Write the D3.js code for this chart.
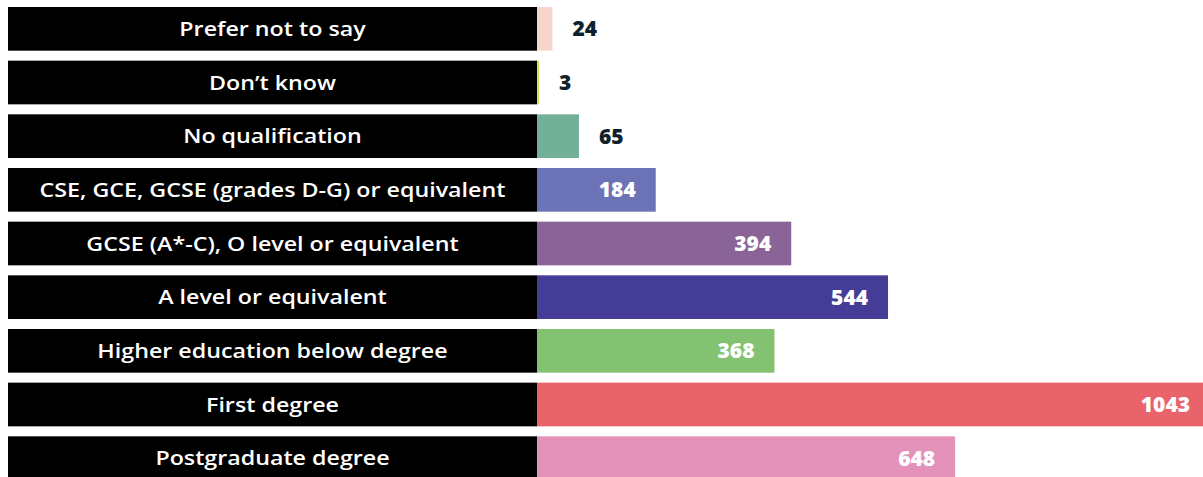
<!DOCTYPE html>
<html>
<head>
<meta charset="utf-8">
<script src="https://cdn.jsdelivr.net/npm/d3@7"></script>
<style>
  html, body { margin: 0; padding: 0; background: #ffffff; }
  svg { display: block; overflow: hidden; }
</style>
</head>
<body>
<svg id="chart" width="1203" height="477"></svg>
<script>
// Highest qualification held, number of respondents
const categories = [
  "Prefer not to say",
  "Don\u2019t know",
  "No qualification",
  "CSE, GCE, GCSE (grades D-G) or equivalent",
  "GCSE (A*-C), O level or equivalent",
  "A level or equivalent",
  "Higher education below degree",
  "First degree",
  "Postgraduate degree"
];
const values = [24, 3, 65, 184, 394, 544, 368, 1043, 648];
const colors = [
  "#f6d5cc", "#d3df4f", "#72b098", "#6b72b5", "#8a6496",
  "#443c96", "#83c271", "#e9636a", "#e492ba"
];

const W = 1203, H = 477;
const labelLeft = 8, barLeft = 537;
const insideMin = 150; // values at or above this are labelled inside the bar

const svg = d3.select("#chart");

const x = d3.scaleLinear().domain([0, 1043]).range([barLeft, 1210]);
const y = d3.scaleBand().domain(categories).range([7, 480]).paddingInner(0.186).paddingOuter(0);

const rows = svg.selectAll("g.row")
  .data(categories.map((c, i) => ({ c, v: values[i], col: colors[i] })))
  .join("g").attr("class", "row");

// black category boxes
rows.append("rect")
  .attr("x", labelLeft)
  .attr("y", d => y(d.c))
  .attr("width", barLeft - labelLeft)
  .attr("height", y.bandwidth())
  .attr("fill", "#000000");

rows.append("text")
  .attr("class", "cat")
  .attr("x", (labelLeft + barLeft) / 2)
  .attr("y", d => y(d.c) + y.bandwidth() / 2)
  .attr("dy", "0.36em")
  .attr("text-anchor", "middle")
  .attr("fill", "#ffffff")
  .style("font-family", "'Open Sans', sans-serif")
  .style("font-weight", 600)
  .style("font-size", "20px")
  .text(d => d.c);

// value bars
rows.append("rect")
  .attr("x", barLeft)
  .attr("y", d => y(d.c))
  .attr("width", d => x(d.v) - x(0))
  .attr("height", y.bandwidth())
  .attr("fill", d => d.col);

rows.append("text")
  .attr("class", "val")
  .attr("x", d => d.v >= insideMin ? x(d.v) - 20 : x(d.v) + 20)
  .attr("y", d => y(d.c) + y.bandwidth() / 2)
  .attr("dy", "0.36em")
  .attr("text-anchor", d => d.v >= insideMin ? "end" : "start")
  .attr("fill", d => d.v >= insideMin ? "#ffffff" : "#0f1f2c")
  .style("font-family", "'Open Sans', sans-serif")
  .style("font-weight", 800)
  .style("font-size", "21px")
  .text(d => d.v);

// widen the glyphs slightly to approximate a broad geometric face
const ref = svg.selectAll("text.cat").filter(d => d.c.startsWith("CSE")).node();
const natural = ref.getComputedTextLength();
const sx = 466 / natural;
svg.selectAll("text.cat").each(function () {
  const cx = +this.getAttribute("x");
  d3.select(this).attr("transform", `translate(${cx},0) scale(${sx},1) translate(${-cx},0)`);
});
</script>
</body>
</html>
